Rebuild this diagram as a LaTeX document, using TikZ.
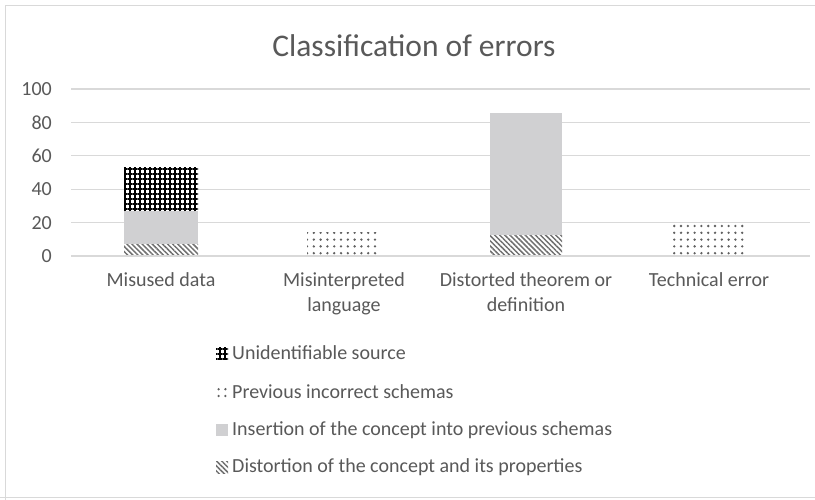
\documentclass[tikz,border=0pt]{standalone}
\usepackage{fontspec}
\setmainfont{Carlito}
\usetikzlibrary{patterns.meta}
\definecolor{txt}{HTML}{595959}
\definecolor{grid}{HTML}{D9D9D9}
\definecolor{barfill}{HTML}{D0D0D2}
\definecolor{patgray}{HTML}{707070}
\definecolor{dotgray}{HTML}{606060}
\begin{document}
\begin{tikzpicture}[x=1pt,y=-1pt,
  gridline/.style={draw=grid,line width=1.2pt},
  ylab/.style={anchor=east,text=txt,font=\fontsize{20}{22}\selectfont,inner sep=0pt},
  catlab/.style={align=center,text=txt,font=\fontsize{20}{25}\selectfont,inner sep=0pt,anchor=north},
  leglab/.style={anchor=west,text=txt,font=\fontsize{20}{22}\selectfont,inner sep=0pt},
  hatchbar/.style={pattern={Lines[angle=-45,distance=3.6pt,line width=1.5pt]},pattern color=patgray},
  dotbar/.style={pattern={Dots[distance=6.8pt,radius=1.3pt,xshift=1pt,yshift=1pt]},pattern color=dotgray},
  gridbar/.style={pattern={Hatch[angle=0,distance=5pt,line width=1.45pt]},pattern color=black},
  graybar/.style={fill=barfill}
]
\useasboundingbox (0,0) rectangle (815,499);
\fill[white] (0,0) rectangle (815,499);
\draw[draw=grid,line width=1.5pt] (5.5,505) -- (5.5,5.5) -- (820,5.5);
\draw[draw=grid,line width=1pt] (0,497.5) -- (815,497.5);
% title
\node[text=txt,font=\fontsize{31.5}{34}\selectfont,inner sep=0pt] (title) at (414,46) {Classification of errors};
% gridlines and axis labels
\foreach \v/\yy in {0/256,20/222.6,40/189.2,60/155.8,80/122.4,100/89}{
  \draw[gridline] (71,\yy) -- (810,\yy);
  \node[ylab] (y\v) at (52,\yy) {\v};
}
% bars: y0=256, 1.67 px per unit
% Misused data
\path[hatchbar] (124,256) rectangle (198,244.3);
\path[graybar] (124,244.3) rectangle (198,211);
\path[gridbar] (124,211) rectangle (198,167.5);
% Misinterpreted language
\path[dotbar] (307,256) rectangle (380,232.5);
% Distorted theorem
\path[hatchbar] (490,256) rectangle (562,234.5);
\path[graybar] (490,234.5) rectangle (562,112.5);
% Technical error
\path[dotbar] (673,256) rectangle (745,224);
\draw[gridline] (71,256) -- (810,256);
% category labels
\node[catlab] (c1) at (161,272) {Misused data};
\node[catlab] (c2) at (344,272) {Misinterpreted\\language};
\node[catlab] (c3) at (526,272) {Distorted theorem or\\definition};
\node[catlab] (c4) at (709,272) {Technical error};
% legend
\path[gridbar] (216,347) rectangle (228,359);
\node[leglab] (l1) at (232,353) {Unidentifiable source};
\path[dotbar] (215,386) rectangle (228,398);
\node[leglab] (l2) at (232,392) {Previous incorrect schemas};
\path[graybar] (216,424) rectangle (228,436);
\node[leglab] (l3) at (232,430) {Insertion of the concept into previous schemas};
\path[hatchbar] (216,461) rectangle (228,473);
\node[leglab] (l4) at (232,467) {Distortion of the concept and its properties};
\end{tikzpicture}
\end{document}
